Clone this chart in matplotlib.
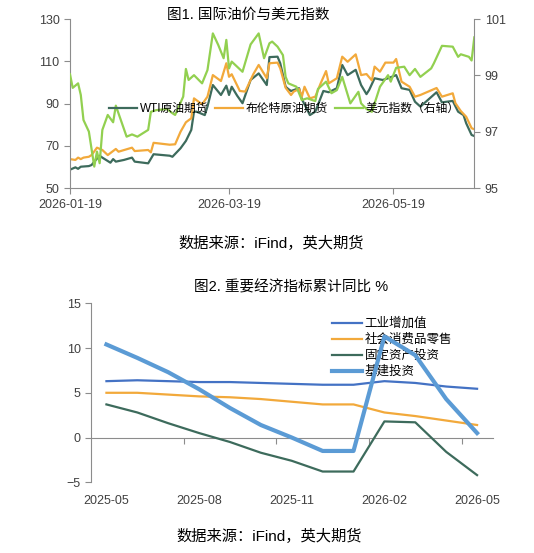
import matplotlib
matplotlib.use('Agg')
import matplotlib.pyplot as plt
import matplotlib.dates as mdates
import pandas as pd

plt.rcParams['font.family'] = ['Liberation Sans', 'Noto Sans CJK SC']

# ---- 图1 数据 ----
wti_dates = ['2026-01-19', '2026-01-21', '2026-01-22', '2026-01-23', '2026-01-26', '2026-01-27',
             '2026-01-28', '2026-01-30', '2026-01-31', '2026-02-03', '2026-02-04', '2026-02-05',
             '2026-02-08', '2026-02-11', '2026-02-12', '2026-02-17', '2026-02-19', '2026-02-25',
             '2026-02-26', '2026-03-01', '2026-03-03', '2026-03-05', '2026-03-06', '2026-03-07',
             '2026-03-10', '2026-03-11', '2026-03-13', '2026-03-16', '2026-03-18', '2026-03-19',
             '2026-03-20', '2026-03-22', '2026-03-24', '2026-03-27', '2026-03-30', '2026-04-02',
             '2026-04-03', '2026-04-06', '2026-04-07', '2026-04-09', '2026-04-10', '2026-04-11',
             '2026-04-14', '2026-04-15', '2026-04-18', '2026-04-20', '2026-04-23', '2026-04-25',
             '2026-04-28', '2026-04-30', '2026-05-02', '2026-05-05', '2026-05-07', '2026-05-09',
             '2026-05-10', '2026-05-12', '2026-05-15', '2026-05-17', '2026-05-20', '2026-05-22',
             '2026-05-25', '2026-05-27', '2026-05-29', '2026-06-04', '2026-06-06', '2026-06-10',
             '2026-06-12', '2026-06-14', '2026-06-15', '2026-06-17', '2026-06-18']
wti = [58.8, 59.9, 59.2, 60.2, 60.5, 61.0, 62.6, 65.4, 64.5, 62.1, 63.8, 62.6,
       63.4, 64.5, 62.6, 61.8, 66.1, 65.4, 64.9, 68.9, 72.4, 77.6, 86.2, 86.2,
       84.6, 88.6, 98.8, 94.1, 98.5, 94.1, 98.0, 93.8, 90.2, 101.2, 104.3, 98.8,
       112.0, 112.2, 109.1, 98.0, 96.9, 96.0, 97.3, 92.2, 84.6, 86.2, 96.0, 95.4,
       97.3, 108.3, 103.5, 106.0, 98.8, 94.5, 96.5, 102.0, 101.2, 102.0, 103.5, 97.3,
       96.5, 90.9, 88.6, 95.4, 90.6, 91.3, 86.2, 84.6, 80.7, 75.2, 74.7]

brent_dates = ['2026-01-19', '2026-01-21', '2026-01-22', '2026-01-23', '2026-01-24', '2026-01-26',
               '2026-01-27', '2026-01-29', '2026-01-31', '2026-02-02', '2026-02-05', '2026-02-06',
               '2026-02-11', '2026-02-12', '2026-02-17', '2026-02-18', '2026-02-19', '2026-02-25',
               '2026-02-27', '2026-03-01', '2026-03-03', '2026-03-05', '2026-03-06', '2026-03-09',
               '2026-03-11', '2026-03-13', '2026-03-16', '2026-03-18', '2026-03-19', '2026-03-20',
               '2026-03-23', '2026-03-25', '2026-03-28', '2026-03-30', '2026-04-02', '2026-04-03',
               '2026-04-06', '2026-04-07', '2026-04-09', '2026-04-11', '2026-04-12', '2026-04-14',
               '2026-04-15', '2026-04-16', '2026-04-18', '2026-04-20', '2026-04-22', '2026-04-24',
               '2026-04-25', '2026-04-28', '2026-04-30', '2026-05-02', '2026-05-05', '2026-05-07',
               '2026-05-09', '2026-05-11', '2026-05-12', '2026-05-14', '2026-05-16', '2026-05-19',
               '2026-05-20', '2026-05-22', '2026-05-25', '2026-05-27', '2026-05-29', '2026-06-04',
               '2026-06-06', '2026-06-10', '2026-06-11', '2026-06-13', '2026-06-15', '2026-06-17',
               '2026-06-18']
brent = [63.8, 63.4, 64.5, 63.8, 64.5, 64.9, 65.7, 69.2, 68.1, 65.7, 68.6, 67.3,
         69.2, 67.6, 68.1, 67.0, 71.5, 70.6, 70.8, 76.7, 81.2, 83.1, 92.5, 89.7,
         93.3, 103.5, 100.7, 109.1, 102.7, 103.9, 96.0, 95.7, 103.9, 108.3, 102.0, 109.1,
         109.4, 106.7, 97.5, 94.1, 95.7, 96.9, 93.3, 98.0, 92.5, 93.3, 99.6, 105.4,
         99.6, 102.0, 112.2, 109.8, 113.3, 103.5, 104.0, 101.0, 107.5, 105.1, 109.4, 109.4,
         111.1, 100.4, 98.0, 93.3, 94.1, 97.4, 93.3, 94.9, 90.2, 86.5, 83.8, 78.4,
         77.9]

dxy_dates = ['2026-01-19', '2026-01-20', '2026-01-22', '2026-01-23', '2026-01-24', '2026-01-26',
             '2026-01-28', '2026-01-29', '2026-01-30', '2026-01-31', '2026-02-02', '2026-02-04',
             '2026-02-05', '2026-02-09', '2026-02-11', '2026-02-13', '2026-02-17', '2026-02-18',
             '2026-02-20', '2026-02-24', '2026-02-26', '2026-02-27', '2026-03-02', '2026-03-03',
             '2026-03-04', '2026-03-06', '2026-03-09', '2026-03-11', '2026-03-13', '2026-03-15',
             '2026-03-17', '2026-03-18', '2026-03-19', '2026-03-20', '2026-03-24', '2026-03-27',
             '2026-03-30', '2026-04-01', '2026-04-03', '2026-04-04', '2026-04-06', '2026-04-08',
             '2026-04-09', '2026-04-10', '2026-04-13', '2026-04-15', '2026-04-17', '2026-04-20',
             '2026-04-21', '2026-04-24', '2026-04-26', '2026-04-28', '2026-04-30', '2026-05-03',
             '2026-05-06', '2026-05-07', '2026-05-09', '2026-05-11', '2026-05-14', '2026-05-17',
             '2026-05-18', '2026-05-20', '2026-05-23', '2026-05-25', '2026-05-27', '2026-05-29',
             '2026-06-02', '2026-06-03', '2026-06-06', '2026-06-10', '2026-06-12', '2026-06-13',
             '2026-06-16', '2026-06-17', '2026-06-18']
dxy = [99.04, 98.56, 98.72, 98.31, 97.42, 97.01, 95.77, 96.30, 95.89, 97.07, 97.60, 97.34,
       97.93, 96.83, 96.91, 96.83, 97.07, 97.71, 97.77, 97.81, 97.66, 97.60, 98.25, 99.23,
       98.84, 99.01, 98.72, 99.19, 100.49, 100.08, 99.61, 100.26, 99.25, 99.49, 99.13, 100.10,
       100.49, 99.61, 100.14, 100.20, 100.02, 99.72, 98.95, 98.72, 98.60, 98.13, 98.19, 98.09,
       98.52, 98.78, 98.37, 98.48, 98.95, 98.01, 98.42, 98.01, 97.81, 97.71, 98.60, 99.01,
       98.78, 99.27, 99.31, 99.01, 99.23, 98.95, 99.25, 99.43, 100.05, 100.02, 99.66, 99.75,
       99.66, 99.53, 100.35]

# ---- 图2 数据 ----
months = ['2025-05', '2025-06', '2025-07', '2025-08', '2025-09', '2025-10', '2025-11',
          '2025-12', '2026-01', '2026-02', '2026-03', '2026-04', '2026-05']
gongye = [6.3, 6.4, 6.3, 6.2, 6.2, 6.1, 6.0, 5.9, 5.9, 6.3, 6.1, 5.7, 5.45]
shelin = [5.0, 5.0, 4.8, 4.6, 4.5, 4.3, 4.0, 3.7, 3.7, 2.8, 2.4, 1.9, 1.4]
gutou = [3.7, 2.8, 1.6, 0.5, -0.5, -1.7, -2.6, -3.8, -3.8, 1.8, 1.7, -1.6, -4.2]
jijian = [10.4, 8.9, 7.3, 5.4, 3.3, 1.4, 0.0, -1.5, -1.5, 11.3, 9.2, 4.3, 0.5]

gray = '#8c8c8c'
tc = '#404040'

fig = plt.figure(figsize=(5.34, 5.53), dpi=100)

# 图1
ax1 = fig.add_axes([0.1311, 0.6595, 0.7571, 0.3061])
ax1r = ax1.twinx()
l1, = ax1.plot(pd.to_datetime(wti_dates), wti, color='#3D6B5C', lw=1.6, label='WTI原油期货')
l2, = ax1.plot(pd.to_datetime(brent_dates), brent, color='#F2A93B', lw=1.6, label='布伦特原油期货')
l3, = ax1r.plot(pd.to_datetime(dxy_dates), dxy, color='#92D050', lw=1.6, label='美元指数（右轴）')

ax1.set_xlim(pd.Timestamp('2026-01-19'), pd.Timestamp('2026-06-18'))
ax1.set_ylim(50, 130)
ax1.set_yticks([50, 70, 90, 110, 130])
ax1r.set_ylim(95, 101)
ax1r.set_yticks([95, 97, 99, 101])
ax1.set_xticks(pd.to_datetime(['2026-01-19', '2026-03-19', '2026-05-19']))
ax1.xaxis.set_major_formatter(mdates.DateFormatter('%Y-%m-%d'))
for a in (ax1, ax1r):
    a.spines['top'].set_visible(False)
    for s in a.spines.values():
        s.set_color(gray)
    a.tick_params(colors=gray, labelcolor=tc, labelsize=9, length=4, width=0.8)
ax1.spines['right'].set_visible(False)
ax1r.spines['left'].set_visible(False)
ax1r.spines['bottom'].set_visible(False)

ax1r.legend(handles=[l1, l2, l3], loc='center', bbox_to_anchor=(0.53, 0.468), ncol=3,
            frameon=False, fontsize=8.5, handlelength=2.4, handletextpad=0.2,
            columnspacing=0.6, borderpad=0)

fig.text(0.465, 0.973, '图1. 国际油价与美元指数', ha='center', va='center', fontsize=10.5)
fig.text(0.507, 0.5606, '数据来源：iFind，英大期货', ha='center', va='center', fontsize=11)

# 图2
ax2 = fig.add_axes([0.1704, 0.1279, 0.7519, 0.3236])
x = list(range(len(months)))
ax2.plot(x, gongye, color='#4472C4', lw=1.6, label='工业增加值', zorder=3)
ax2.plot(x, shelin, color='#F2A93B', lw=1.6, label='社会消费品零售', zorder=3)
ax2.plot(x, gutou, color='#3D6B5C', lw=1.6, label='固定资产投资', zorder=3)
ax2.plot(x, jijian, color='#5B9BD5', lw=3, label='基建投资', zorder=3)
ax2.set_xlim(-0.5, 12.5)
ax2.set_ylim(-5, 15)
ax2.set_yticks([-5, 0, 5, 10, 15])
ax2.set_xticks(x[::3])
ax2.set_xticklabels(months[::3])
for s in ('top', 'right', 'bottom'):
    ax2.spines[s].set_visible(False)
ax2.spines['left'].set_color(gray)
ax2.tick_params(axis='y', colors=gray, labelcolor=tc, labelsize=9, length=4, width=0.8)
ax2.tick_params(axis='x', length=0, labelcolor=tc, labelsize=9, pad=9)
zero = ax2.secondary_xaxis(0.25)
zero.set_xticks([2.5, 5.5, 8.5, 11.5])
zero.set_xticklabels([])
zero.spines['bottom'].set_color(gray)
zero.tick_params(colors=gray, length=4, width=0.8)

leg = ax2.legend(loc='upper left', bbox_to_anchor=(0.585, 0.955), frameon=False, fontsize=9,
                 handlelength=2.4, handletextpad=0.2, labelspacing=0.3, borderpad=0)
leg.set_zorder(1)

fig.text(0.545, 0.481, '图2. 重要经济指标累计同比 %', ha='center', va='center', fontsize=10.5)
fig.text(0.505, 0.0295, '数据来源：iFind，英大期货', ha='center', va='center', fontsize=11)

fig.savefig('out.png', dpi=100)
